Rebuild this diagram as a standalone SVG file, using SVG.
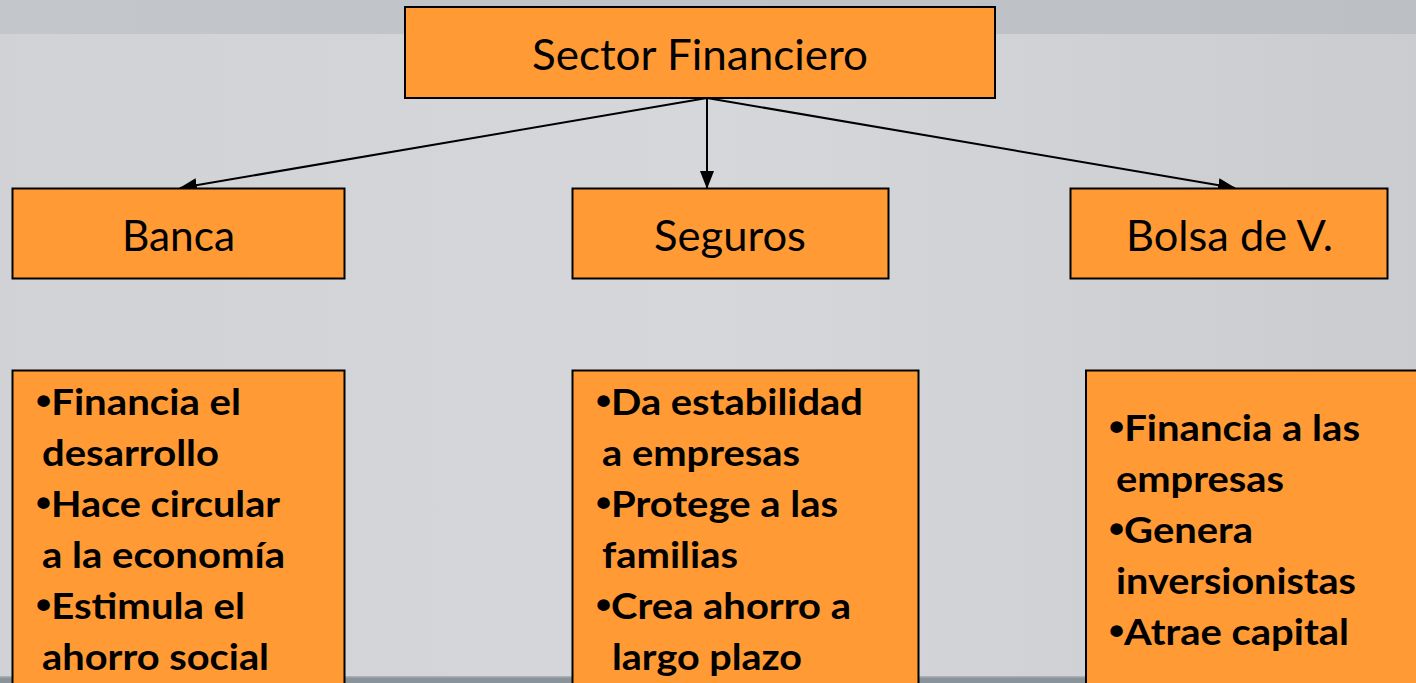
<svg xmlns="http://www.w3.org/2000/svg" width="1416" height="683" viewBox="0 0 1416 683">
<style>
.box{fill:#ff9a35;stroke:#000;stroke-width:2}
.hd{font-family:Lato,"Open Sans","Liberation Sans",sans-serif;font-size:42px;fill:#000;text-anchor:start}
.li{font-family:Lato,"Open Sans","Liberation Sans",sans-serif;font-size:37px;font-weight:bold;fill:#000}
.b{font-family:"Liberation Sans",Arial,sans-serif;font-size:40px}
.conn{stroke:#000;stroke-width:2;fill:none}
</style>
<defs>
<linearGradient id="bg" x1="0" y1="0" x2="1" y2="0">
<stop offset="0" stop-color="#d0d2d5"/>
<stop offset="0.5" stop-color="#d5d7da"/>
<stop offset="1" stop-color="#cacccf"/>
</linearGradient>
<linearGradient id="top" x1="0" y1="0" x2="1" y2="0">
<stop offset="0" stop-color="#c3c6cb"/>
<stop offset="1" stop-color="#bcbfc3"/>
</linearGradient>
<marker id="ah" markerWidth="18" markerHeight="14" refX="17" refY="7" orient="auto" markerUnits="userSpaceOnUse">
<path d="M0,0 L18,7 L0,14 Z" fill="#000"/>
</marker>
</defs>
<g id="background">
<rect x="0" y="0" width="1416" height="683" fill="url(#bg)"/>
<rect x="0" y="0" width="1416" height="34" fill="url(#top)"/>
<rect x="0" y="676" width="1416" height="7" fill="#8a939a"/>
<rect x="0" y="676" width="1416" height="1.5" fill="#a9b0b5"/>
</g>
<g id="connectors">
<line class="conn" x1="707" y1="98" x2="180" y2="188" marker-end="url(#ah)"/>
<line class="conn" x1="707" y1="98" x2="707" y2="188" marker-end="url(#ah)"/>
<line class="conn" x1="707" y1="98" x2="1235" y2="188" marker-end="url(#ah)"/>
</g>
<g id="sector">
<rect class="box" x="405" y="7" width="590" height="91"/>
<text class="hd" x="532" y="70" textLength="336" lengthAdjust="spacingAndGlyphs">Sector Financiero</text>
</g>
<g id="banca">
<rect class="box" x="12.5" y="188.5" width="332" height="90"/>
<text class="hd" x="122" y="251" textLength="113" lengthAdjust="spacingAndGlyphs">Banca</text>
</g>
<g id="seguros">
<rect class="box" x="572.5" y="188.5" width="316" height="90"/>
<text class="hd" x="654" y="251" textLength="152" lengthAdjust="spacingAndGlyphs">Seguros</text>
</g>
<g id="bolsa">
<rect class="box" x="1070.5" y="188.5" width="317" height="90"/>
<text class="hd" x="1126" y="251" textLength="207" lengthAdjust="spacingAndGlyphs">Bolsa de V.</text>
</g>
<g id="banca-list">
<rect class="box" x="12.5" y="370.5" width="332" height="320"/>
<text class="li" x="36" y="415" textLength="205" lengthAdjust="spacingAndGlyphs"><tspan class="b">•</tspan>Financia el</text>
<text class="li" x="42" y="466" textLength="177" lengthAdjust="spacingAndGlyphs">desarrollo</text>
<text class="li" x="36" y="517" textLength="244" lengthAdjust="spacingAndGlyphs"><tspan class="b">•</tspan>Hace circular</text>
<text class="li" x="42" y="568" textLength="243" lengthAdjust="spacingAndGlyphs">a la economía</text>
<text class="li" x="36" y="619" textLength="209" lengthAdjust="spacingAndGlyphs"><tspan class="b">•</tspan>Estimula el</text>
<text class="li" x="42" y="670" textLength="227" lengthAdjust="spacingAndGlyphs">ahorro social</text>
</g>
<g id="seguros-list">
<rect class="box" x="572.5" y="370.5" width="346" height="320"/>
<text class="li" x="596" y="415" textLength="267" lengthAdjust="spacingAndGlyphs"><tspan class="b">•</tspan>Da estabilidad</text>
<text class="li" x="602" y="466" textLength="198" lengthAdjust="spacingAndGlyphs">a empresas</text>
<text class="li" x="596" y="517" textLength="242" lengthAdjust="spacingAndGlyphs"><tspan class="b">•</tspan>Protege a las</text>
<text class="li" x="602" y="568" textLength="136" lengthAdjust="spacingAndGlyphs">familias</text>
<text class="li" x="596" y="619" textLength="255" lengthAdjust="spacingAndGlyphs"><tspan class="b">•</tspan>Crea ahorro a</text>
<text class="li" x="612" y="670" textLength="190" lengthAdjust="spacingAndGlyphs">largo plazo</text>
</g>
<g id="bolsa-list">
<rect class="box" x="1086" y="370.5" width="340" height="320"/>
<text class="li" x="1109" y="441" textLength="251" lengthAdjust="spacingAndGlyphs"><tspan class="b">•</tspan>Financia a las</text>
<text class="li" x="1116" y="492" textLength="168" lengthAdjust="spacingAndGlyphs">empresas</text>
<text class="li" x="1109" y="543" textLength="144" lengthAdjust="spacingAndGlyphs"><tspan class="b">•</tspan>Genera</text>
<text class="li" x="1116" y="594" textLength="240" lengthAdjust="spacingAndGlyphs">inversionistas</text>
<text class="li" x="1109" y="645" textLength="240" lengthAdjust="spacingAndGlyphs"><tspan class="b">•</tspan>Atrae capital</text>
</g>
</svg>
